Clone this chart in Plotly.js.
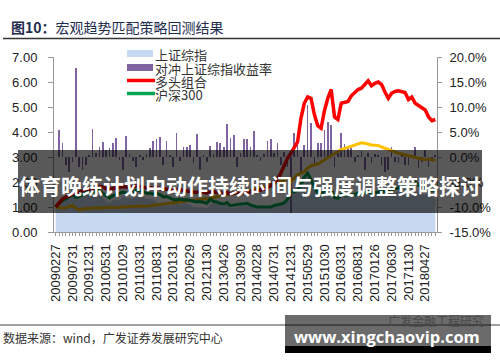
<!DOCTYPE html>
<html>
<head>
<meta charset="utf-8">
<script src="https://cdn.plot.ly/plotly-3.0.1.min.js"></script>
<style>html,body{margin:0;padding:0;background:#fff;}#chart{width:500px;height:362px;}</style>
</head>
<body>
<div id="chart"></div>
<script>
// ---- data ----
const dates = [
'20090227','20090331','20090430','20090527','20090630','20090731','20090831','20090930','20091030','20091130','20091231',
'20100129','20100226','20100331','20100430','20100531','20100630','20100730','20100831','20100930','20101029','20101130','20101231',
'20110131','20110228','20110331','20110429','20110531','20110630','20110729','20110831','20110930','20111031','20111130','20111230',
'20120131','20120229','20120330','20120427','20120531','20120629','20120731','20120831','20120928','20121031','20121130','20121231',
'20130131','20130228','20130329','20130426','20130531','20130628','20130731','20130830','20130930','20131031','20131129','20131231',
'20140130','20140228','20140331','20140430','20140530','20140630','20140731','20140829','20140930','20141031','20141128','20141231',
'20150130','20150227','20150331','20150430','20150529','20150630','20150731','20150831','20150930','20151030','20151130','20151231',
'20160129','20160229','20160331','20160429','20160531','20160630','20160729','20160831','20160930','20161031','20161130','20161230',
'20170126','20170228','20170331','20170428','20170531','20170630','20170731','20170831','20170929','20171031','20171130','20171229',
'20180131','20180228','20180330','20180427','20180531','20180629','20180731'
];
const tickLabels = ['20090227','20090731','20091231','20100531','20101029','20110331','20110831','20120131','20120629','20121130','20130426','20130930','20140228','20140731','20141231','20150529','20151030','20160331','20160831','20170126','20170630','20171130','20180427'];

// 上证综指 (normalised, left axis)
const sseIndex = [
1.00,1.14,1.19,1.26,1.42,1.64,1.28,1.33,1.44,1.53,1.57,
1.44,1.47,1.49,1.38,1.24,1.15,1.27,1.27,1.28,1.43,1.35,1.35,
1.34,1.40,1.41,1.40,1.32,1.33,1.30,1.23,1.13,1.19,1.12,1.06,
1.10,1.17,1.09,1.15,1.14,1.07,1.01,0.98,1.00,0.99,0.95,1.09,
1.15,1.14,1.07,1.05,1.11,0.95,0.96,1.01,1.04,1.03,1.07,1.02,
0.98,0.99,0.98,0.97,0.98,0.98,1.06,1.06,1.14,1.16,1.29,1.55,
1.54,1.59,1.80,2.13,2.22,2.05,1.76,1.54,1.47,1.62,1.65,1.70,
1.32,1.29,1.44,1.41,1.40,1.41,1.43,1.48,1.44,1.49,1.56,1.49,
1.52,1.56,1.55,1.52,1.50,1.53,1.57,1.61,1.61,1.63,1.59,1.59,
1.67,1.57,1.52,1.48,1.49,1.37,1.38
];
// 对冲上证综指收益率 (%, right axis)
const hedgeReturn = [
0,5.4,2.8,-1.6,-3.0,-1.0,17.8,-2.0,-2.5,-1.5,0.5,
5.6,0.8,2.0,3.0,1.4,1.8,2.8,3.8,-0.5,-2.5,4.2,0.6,
-0.8,-2.0,0.4,-0.5,0.6,1.8,3.2,3.6,4.0,-1.5,3.2,0.5,
-2.0,4.8,-0.8,2.0,2.0,2.4,-1.2,4.6,-2.5,0.5,-1.0,2.2,
0.6,3.0,2.8,2.0,6.6,3.8,4.4,-2.0,0.8,3.6,3.6,2.0,
5.2,0.5,-0.8,0.6,3.2,3.6,0.8,2.8,-1.5,1.0,-2.0,-11.2,
4.8,3.8,-3.0,2.5,10.4,6.8,-1.5,2.8,2.8,5.4,7.0,6.4,
-2.0,0.8,4.8,2.6,1.8,1.8,-1.0,0.5,1.2,-2.5,0.8,-1.2,
0.6,0.4,-1.5,-3.0,-2.6,2.0,-1.0,-1.2,0.5,-1.5,-1.5,0.5,
2.0,-2.2,-1.0,1.5,-2.0,-0.5,0.5
];
// 多头组合
const longPortfolio = [
1.00,1.18,1.32,1.40,1.45,1.55,1.52,1.58,1.65,1.72,1.70,
1.72,1.75,1.82,1.80,1.74,1.70,1.74,1.76,1.78,1.82,1.80,1.78,
1.80,1.85,1.82,1.80,1.76,1.78,1.75,1.77,1.74,1.70,1.72,1.68,
1.66,1.68,1.70,1.66,1.64,1.62,1.60,1.58,1.62,1.60,1.56,1.60,
1.62,1.58,1.56,1.55,1.58,1.52,1.55,1.58,1.56,1.58,1.62,1.60,
1.62,1.65,1.68,1.72,1.78,1.85,1.95,2.10,2.35,2.65,2.95,3.15,
3.35,3.60,4.55,5.15,5.40,5.35,4.70,4.25,4.15,4.85,5.35,5.70,
4.60,4.50,5.15,5.18,5.22,5.45,5.60,5.70,5.75,5.90,6.05,5.85,
5.95,6.00,5.90,5.60,5.35,5.55,5.62,5.65,5.62,5.58,5.30,5.40,
5.15,5.05,4.95,4.88,4.60,4.45,4.50
];
// 沪深300
const hs300 = [
1.00,1.15,1.25,1.32,1.40,1.50,1.38,1.42,1.50,1.58,1.55,
1.60,1.62,1.68,1.55,1.45,1.36,1.45,1.50,1.52,1.60,1.56,1.55,
1.58,1.68,1.65,1.62,1.55,1.56,1.52,1.55,1.50,1.40,1.42,1.35,
1.30,1.28,1.32,1.28,1.30,1.26,1.22,1.20,1.22,1.20,1.15,1.32,
1.22,1.20,1.14,1.12,1.18,1.05,1.07,1.12,1.12,1.12,1.15,1.08,
1.03,1.00,1.00,1.01,1.00,1.00,1.06,1.08,1.12,1.16,1.30,1.62,
1.60,1.67,1.88,2.20,2.35,2.10,1.80,1.58,1.50,1.65,1.67,1.74,
1.38,1.35,1.50,1.47,1.48,1.47,1.50,1.55,1.52,1.56,1.65,1.55,
1.58,1.61,1.62,1.61,1.63,1.70,1.74,1.78,1.79,1.87,1.87,1.88,
2.00,1.88,1.82,1.76,1.78,1.64,1.66
];
// 对冲组合净值 (gold line)
const hedgedNav = [
1.00,0.98,0.95,0.97,1.02,1.06,0.95,0.88,0.92,0.95,0.94,
0.96,0.97,0.96,0.98,0.97,0.99,0.98,0.97,0.99,1.00,1.01,0.99,
1.01,1.02,1.03,1.04,1.03,1.05,1.06,1.08,1.10,1.12,1.13,1.15,
1.17,1.20,1.22,1.23,1.25,1.26,1.27,1.28,1.30,1.31,1.32,1.35,
1.38,1.40,1.43,1.47,1.50,1.55,1.57,1.58,1.59,1.60,1.63,1.67,
1.70,1.74,1.78,1.82,1.86,1.90,1.94,1.98,2.03,2.08,2.12,2.02,
2.15,2.30,2.35,2.42,2.55,2.65,2.68,2.72,2.80,2.90,2.97,3.05,
3.12,3.22,3.30,3.35,3.40,3.45,3.50,3.53,3.57,3.55,3.50,3.48,
3.47,3.46,3.40,3.35,3.30,3.22,3.18,3.15,3.12,3.08,3.05,3.02,
2.98,2.95,2.92,2.90,2.93,2.88,2.87
];
const leftTicks = [0,1,2,3,4,5,6,7];
const rightTicks = [-15,-10,-5,0,5,10,15,20];
const rightTickText = ['-15.0%','-10.0%','-5.0%','0.0%','5.0%','10.0%','15.0%','20.0%'];
const legendNames = ['上证综指','对冲上证综指收益率','多头组合','沪深300'];

// ---- geometry helpers (pixel -> paper) ----
const W = 500, H = 362, ML = 54, MR = 63, MT = 57, MB = 130;
const PW = W - ML - MR, PH = H - MT - MB;
const px = v => (v - ML) / PW;
const py = v => (H - MB - v) / PH;

const tickText = dates.map(d => tickLabels.includes(d) ? d : '');
const tickFont = {family: 'Liberation Sans, Arial, sans-serif', size: 13, color: '#222'};
const cjk = 'Noto Sans CJK SC, sans-serif';

const traces = [
  {x: dates, y: sseIndex, type: 'scatter', mode: 'lines', fill: 'tozeroy', fillcolor: '#C6D9F1',
   line: {width: 0, color: '#C6D9F1'}, name: legendNames[0], yaxis: 'y'},
  {x: dates, y: hedgeReturn, type: 'bar', marker: {color: '#8064A2'}, width: 0.5,
   name: legendNames[1], yaxis: 'y2'},
  {x: dates, y: hedgedNav, type: 'scatter', mode: 'lines', line: {color: '#FFC000', width: 3},
   name: '对冲组合', yaxis: 'y3'},
  {x: dates, y: hs300, type: 'scatter', mode: 'lines', line: {color: '#00A650', width: 3},
   name: legendNames[3], yaxis: 'y3'},
  {x: dates, y: longPortfolio, type: 'scatter', mode: 'lines', line: {color: '#FF0000', width: 3.5},
   name: legendNames[2], yaxis: 'y3'}
];

const shapes = [
  {type:'line', xref:'paper', yref:'paper', x0:px(3), x1:px(500), y0:py(38.5), y1:py(38.5), line:{color:'#333', width:1.5}},
  {type:'line', xref:'paper', yref:'paper', x0:px(0), x1:px(500), y0:py(325), y1:py(325), line:{color:'#444', width:1}},
  // legend swatches
  {type:'rect', xref:'paper', yref:'paper', x0:px(127), x1:px(153), y0:py(57), y1:py(50), fillcolor:'#C6D9F1', line:{width:0}},
  {type:'rect', xref:'paper', yref:'paper', x0:px(127), x1:px(153), y0:py(71), y1:py(64), fillcolor:'#8064A2', line:{width:0}},
  {type:'line', xref:'paper', yref:'paper', x0:px(127), x1:px(155), y0:py(80.5), y1:py(80.5), line:{color:'#FF0000', width:3.5}},
  {type:'line', xref:'paper', yref:'paper', x0:px(127), x1:px(155), y0:py(93.5), y1:py(93.5), line:{color:'#00A650', width:3.5}},
  // overlay band
  {type:'rect', xref:'paper', yref:'paper', layer:'above', x0:px(18), x1:px(482), y0:py(213), y1:py(150), fillcolor:'rgba(0,0,0,0.65)', line:{width:0}},
  // watermark box
  {type:'rect', xref:'paper', yref:'paper', layer:'above', x0:px(285), x1:px(491), y0:py(346), y1:py(315), fillcolor:'rgba(0,0,0,0.58)', line:{width:0}},
  {type:'rect', xref:'paper', yref:'paper', layer:'above', x0:px(285), x1:px(491), y0:py(353), y1:py(346), fillcolor:'#000', line:{width:0}}
];

function ann(text, x, y, opts) {
  return Object.assign({text: text, xref:'paper', yref:'paper', x: px(x), y: py(y), showarrow:false,
    xanchor:'left', yanchor:'middle', borderpad:0, font:{family: cjk, size: 13, color:'#333'}}, opts || {});
}
const legFont = {family: cjk, size: 13, color: '#333'};
const annotations = [
  ann('<b>图10：</b>宏观趋势匹配策略回测结果', 10, 27, {font:{family: cjk, size:14, color:'#1f2d50'}}),
  ann(legendNames[0], 154, 54.5, {font: legFont}),
  ann(legendNames[1], 154, 68, {font: legFont}),
  ann(legendNames[2], 154, 81.5, {font: legFont}),
  ann(legendNames[3], 154, 94.5, {font: legFont}),
  ann('数据来源：wind，广发证券发展研究中心', 2, 337, {font:{family: cjk, size:12, color:'#333'}}),
  ann('<b>体育晚练计划中动作持续时间与强度调整策略探讨</b>', 250, 185, {xanchor:'center', font:{family: cjk, size:21, color:'#fff'}}),
  ann('广发金融工程研究', 387, 320, {font:{family: cjk, size:12, color:'#4a4a4a'}}),
  ann('<b>www.xingchaovip.com</b>', 387, 336, {xanchor:'center', font:{family:'Open Sans, sans-serif', size:16.5, color:'#fff'}})
];

const layout = {
  width: W, height: H, margin: {l: ML, r: MR, t: MT, b: MB, pad: 0},
  paper_bgcolor: '#fff', plot_bgcolor: '#fff', showlegend: false, bargap: 0,
  xaxis: {type:'category', range:[-0.5, dates.length - 0.5], tickmode:'array', tickvals: dates, ticktext: tickText,
    tickangle: -90, ticks:'outside', ticklen:3, tickcolor:'#999', tickwidth:1, showline:true, linecolor:'#999',
    linewidth:1, showgrid:false, zeroline:false, tickfont: tickFont, ticklabelstandoff: 3},
  yaxis: {range:[0,7], tickmode:'array', tickvals: leftTicks, ticktext: leftTicks.map(v => v.toFixed(2)),
    ticks:'outside', ticklen:5, tickcolor:'#999', showline:true, linecolor:'#999', showgrid:false, zeroline:false,
    tickfont: tickFont, ticklabelstandoff: 8},
  yaxis2: {range:[-15,20], overlaying:'y', side:'right', anchor:'x', tickmode:'array', tickvals: rightTicks,
    ticktext: rightTickText, ticks:'outside', ticklen:4, tickcolor:'#999', showline:true, linecolor:'#999',
    showgrid:false, zeroline:false, tickfont: tickFont, ticklabelstandoff: 5},
  yaxis3: {range:[0,7], overlaying:'y', anchor:'x', visible:false, showgrid:false, zeroline:false},
  shapes: shapes, annotations: annotations
};

Plotly.newPlot('chart', traces, layout, {displayModeBar:false, staticPlot:true});
</script>
</body>
</html>
